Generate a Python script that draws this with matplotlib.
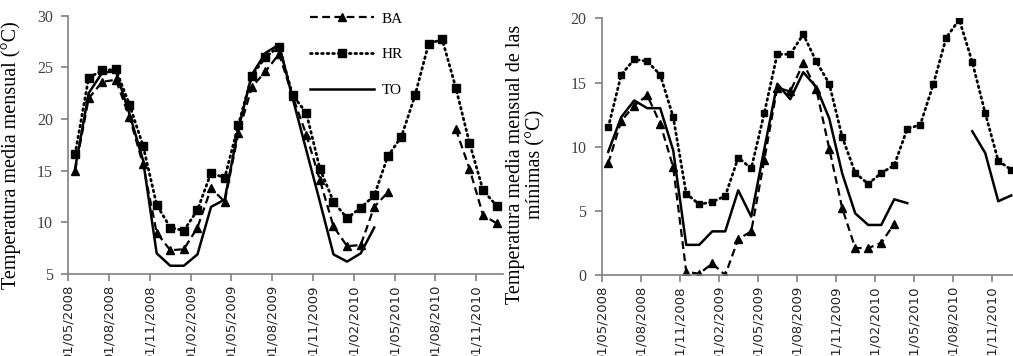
import numpy as np
import matplotlib
matplotlib.use("Agg")
import matplotlib.pyplot as plt
from matplotlib.transforms import ScaledTranslation

nan = np.nan

# monthly values, May 2008 .. Dec 2010
months = np.arange(32)
tick_labels = ["01/05/2008", "01/08/2008", "01/11/2008", "01/02/2009",
               "01/05/2009", "01/08/2009", "01/11/2009", "01/02/2010",
               "01/05/2010", "01/08/2010", "01/11/2010"]

# mean monthly temperature
ba_mean = [15.0, 22.0, 23.6, 23.8, 20.2, 15.6, 9.0, 7.3, 7.4, 9.5, 13.3, 12.0,
           18.6, 23.1, 24.6, 26.3, 22.2, 18.5, 14.1, 9.6, 7.7, 7.8, 11.5, 12.9,
           nan, nan, nan, nan, 19.0, 15.2, 10.7, 9.9]
hr_mean = [16.6, 24.0, 24.7, 24.8, 21.4, 17.4, 11.7, 9.5, 9.2, 11.2, 14.8, 14.3,
           19.4, 24.2, 26.0, 27.0, 22.3, 20.6, 15.2, 12.0, 10.4, 11.4, 12.6, 16.4,
           18.3, 22.3, 27.3, 27.7, 23.0, 17.7, 13.1, 11.6]
to_mean = [15.2, 22.5, 24.5, 24.6, 20.5, 16.0, 7.0, 5.8, 5.8, 6.9, 11.5, 12.2,
           19.0, 24.3, 26.4, 27.2, 22.0, 17.0, 12.0, 6.9, 6.2, 7.0, 9.5, nan,
           nan, nan, nan, nan, nan, nan, nan, nan]

# mean monthly minimum temperature
ba_min = [8.7, 12.0, 13.2, 14.0, 11.8, 8.4, 0.25, 0.1, 0.9, 0.0, 2.8, 3.4,
          8.95, 14.6, 14.3, 16.5, 14.5, 9.85, 5.2, 2.1, 2.1, 2.5, 4.0, nan,
          nan, nan, nan, nan, nan, nan, nan, nan]
hr_min = [11.5, 15.6, 16.8, 16.65, 15.6, 12.3, 6.35, 5.5, 5.7, 6.15, 9.15, 8.3,
          12.6, 17.2, 17.2, 18.75, 16.65, 14.9, 10.75, 7.95, 7.1, 7.95, 8.55, 11.4,
          11.7, 14.85, 18.5, 19.9, 16.6, 12.6, 8.9, 8.2]
to_min = [9.6, 12.3, 13.6, 13.0, 13.0, 9.7, 2.35, 2.35, 3.4, 3.4, 6.6, 4.55,
          9.8, 14.9, 13.7, 15.8, 14.65, 12.2, 7.9, 4.8, 3.9, 3.9, 5.9, 5.6,
          nan, nan, nan, nan, 11.2, 9.5, 5.75, 6.2]

serif = "Liberation Serif"
spine_col = "#808080"

fig = plt.figure(figsize=(10.13, 3.56), dpi=100)
ax1 = fig.add_axes([0.0674, 0.2303, 0.4296, 0.7256])
ax2 = fig.add_axes([0.594, 0.2275, 0.4107, 0.721])


def draw(ax, ba, hr, to, sq):
    ax.plot(months, ba, color="black", lw=1.6, dashes=(3.5, 2), marker="^", ms=6, label="BA")
    ax.plot(months, hr, color="black", lw=2, linestyle=(0, (0.6, 1.4)), dash_capstyle="round",
            marker="s", ms=sq, label="HR")
    ax.plot(months, to, color="black", lw=1.8, label="TO")
    ax.set_xlim(-0.5, 31.5)
    ax.set_xticks(np.arange(-0.5, 31, 3))
    ax.set_xticklabels(tick_labels, rotation=90, fontsize=9.5, family="DejaVu Sans", color="#222222")
    # labels sit a little right of their tick, as in the source
    for lab in ax.get_xticklabels():
        lab.set_transform(lab.get_transform() + ScaledTranslation(8 / 100, 0, fig.dpi_scale_trans))
    for side in ["top", "right"]:
        ax.spines[side].set_visible(False)
    for side in ["left", "bottom"]:
        ax.spines[side].set_color(spine_col)
        ax.spines[side].set_linewidth(1.2)
    ax.tick_params(axis="both", colors=spine_col, length=5, width=1.2)
    ax.tick_params(axis="y", labelsize=11.5, labelcolor="#404040", pad=6)
    ax.tick_params(axis="x", pad=3, labelcolor="#222222")


draw(ax1, ba_mean, hr_mean, to_mean, 5.5)
ax1.set_ylim(5, 30)
ax1.set_yticks([5, 10, 15, 20, 25, 30])
ax1.set_ylabel("Temperatura media mensual (°C)", family=serif, fontsize=14.5)
ax1.yaxis.set_label_coords(-0.109, 0.46)
ax1.legend(loc="upper left", bbox_to_anchor=(0.555, 1.015), frameon=False,
           prop={"family": serif, "size": 11}, handlelength=4.2, handletextpad=0.5,
           labelspacing=1.45, borderpad=0, borderaxespad=0, numpoints=1)

draw(ax2, ba_min, hr_min, to_min, 5)
ax2.set_ylim(0, 20)
ax2.set_yticks([0, 5, 10, 15, 20])
ax2.set_ylabel("Temperatura media mensual de las\nmínimas (°C)", family=serif, fontsize=14.5,
               linespacing=1.05)
ax2.yaxis.set_label_coords(-0.136, 0.43)

for ax in (ax1, ax2):
    for lab in ax.get_yticklabels():
        lab.set_family(serif)

fig.savefig("out.png", dpi=100)
